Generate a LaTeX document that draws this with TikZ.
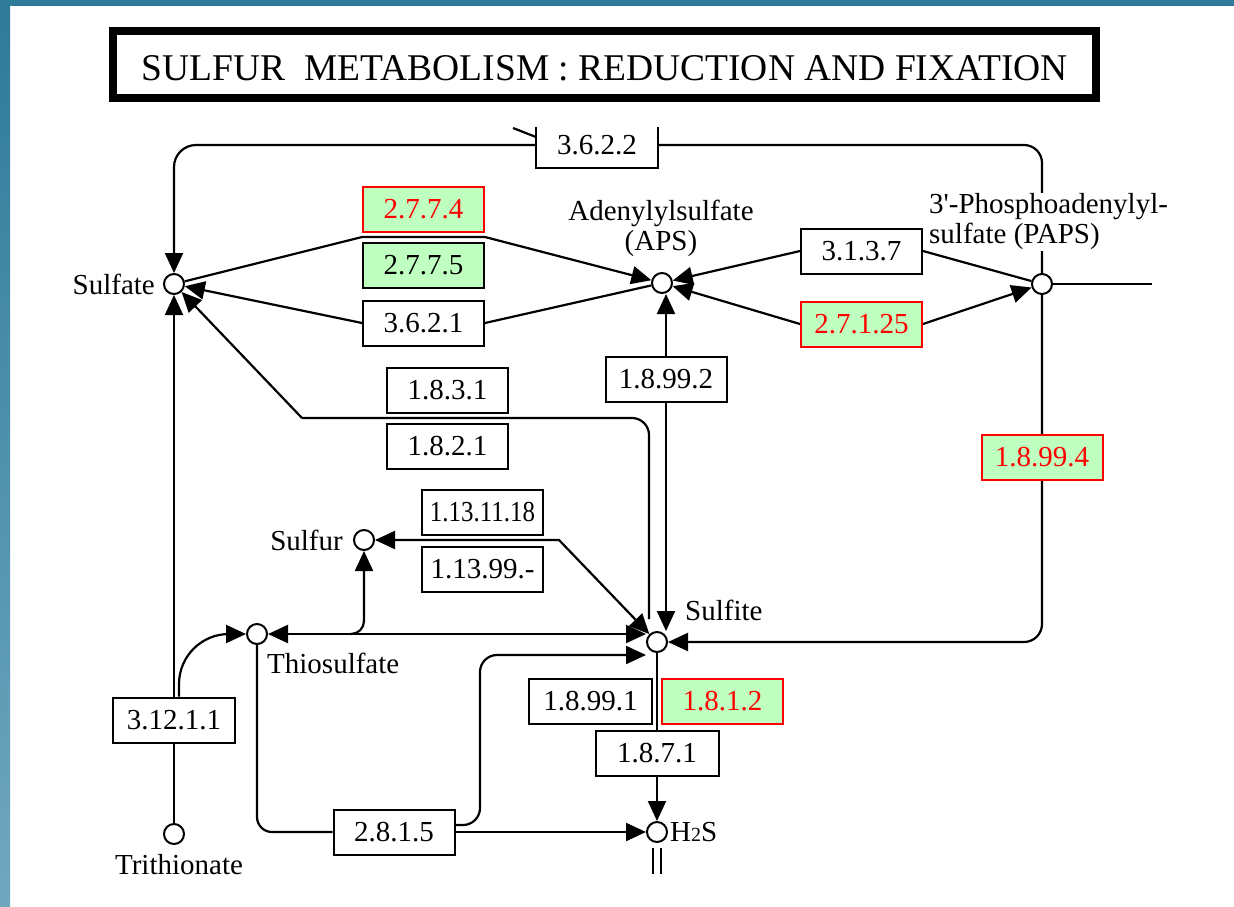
\documentclass[tikz,border=0pt]{standalone}
\usepackage{graphicx}
\usepackage{fontspec}
\setmainfont{Liberation Serif}
\usetikzlibrary{arrows.meta,calc,backgrounds}
\definecolor{kblue}{HTML}{2E7A99}
\definecolor{kblue2}{HTML}{70A7BE}
\definecolor{kgreen}{HTML}{BFFFBF}
\definecolor{kred}{HTML}{FF0000}
\tikzset{
  >={Triangle[length=20pt,width=18pt]},
  cpd/.style={circle, draw, line width=2pt, fill=white, minimum size=20pt, inner sep=0pt},
  ec/.style={rectangle, draw, line width=2pt, fill=white, minimum width=121pt, minimum height=45pt, inner sep=0pt, font=\fontsize{29}{30}\selectfont},
  ecg/.style={ec, fill=kgreen},
  ecr/.style={ec, fill=kgreen, draw=kred, text=kred},
  lbl/.style={font=\fontsize{29}{30}\selectfont, inner sep=1pt},
  conn/.style={line width=2.2pt, draw=black},
}
\begin{document}
\begin{tikzpicture}[x=1pt,y=-1pt]
\useasboundingbox (0,0) rectangle (1234,906);

% title
\node[draw, line width=8pt, minimum width=983pt, minimum height=67pt, inner sep=0pt] (titlebox) at (604.5,64.5) {};
\node[inner sep=0pt] (title) at (605,68.5) {\resizebox{926pt}{25pt}{SULFUR\ \ METABOLISM : REDUCTION AND FIXATION}};

% compounds
\node[cpd] (sulfate) at (174,284) {};
\node[cpd] (aps) at (662,283) {};
\node[cpd] (paps) at (1042,284) {};
\node[cpd] (sulfite) at (657,642) {};
\node[cpd] (sulfur) at (364,540) {};
\node[cpd] (thio) at (257,634) {};
\node[cpd] (trith) at (174,834) {};
\node[cpd] (h2s) at (657,832) {};

% enzymes
\node[ec, draw=none, minimum width=120pt, minimum height=44pt] (e3622) at (597,145) {3.6.2.2};
\draw[conn] ($(e3622.north west)+(0,5)$) -- (e3622.south west) -- (e3622.south east) -- ($(e3622.north east)+(0,5)$);
\node[ecr] (e2774) at (423.5,209) {2.7.7.4};
\node[ecg] (e2775) at (423.5,265) {2.7.7.5};
\node[ec] (e3621) at (423.5,323) {3.6.2.1};
\node[ec] (e3137) at (861.5,251) {3.1.3.7};
\node[ecr] (e27125) at (861.5,324) {2.7.1.25};
\node[ec] (e18992) at (666,379.5) {1.8.99.2};
\node[ec] (e1831) at (447.5,390) {1.8.3.1};
\node[ec] (e1821) at (447.5,446) {1.8.2.1};
\node[ec] (e11311) at (482.5,512) {\scalebox{0.86}[1]{1.13.11.18}};
\node[ec] (e11399) at (482.5,569) {1.13.99.-};
\node[ecr] (e18994) at (1042,457) {1.8.99.4};
\node[ec, minimum width=123pt] (e18991) at (590.5,701.5) {1.8.99.1};
\node[ecr] (e1812) at (722.5,701.5) {1.8.1.2};
\node[ec, minimum width=123pt] (e1871) at (657,753) {1.8.7.1};
\node[ec, minimum width=122pt] (e31211) at (174,720) {3.12.1.1};
\node[ec] (e2815) at (394,832) {2.8.1.5};

\coordinate (g1) at ($(e2774.south west)!0.5!(e2775.north west)$);
\coordinate (g2) at ($(e2774.south east)!0.5!(e2775.north east)$);
\coordinate (k1) at (302,418);
\coordinate (k2) at (559,540);
\coordinate (k4) at (480,655);
\coordinate (pout) at (1152,284);

\begin{pgfonlayer}{background}
\fill[white] (0,0) rectangle (1234,906);
\fill[kblue] (0,0) rectangle (1234,6);
\shade[top color=kblue, bottom color=kblue2] (0,0) rectangle (10,906);

% 3.6.2.2 loop
\draw[conn, rounded corners=18pt] (paps) |- (e3622.east);
\draw[conn, ->, rounded corners=22pt] (e3622.west) -| (sulfate);
\draw[conn] ($(e3622.north west)+(-23,6)$) -- ($(e3622.north west)+(0,15)$);
% sulfate <-> APS
\draw[conn, ->] (sulfate) -- (g1) -- (g2) -- (aps);
\draw[conn] (aps) -- (e3621.east);
\draw[conn, ->] (e3621.west) -- (sulfate);
% APS <-> PAPS
\draw[conn] (paps) -- (e3137.east);
\draw[conn, ->] (e3137.west) -- (aps);
\draw[conn, ->] (e27125.west) -- (aps);
\draw[conn, ->] (e27125.east) -- (paps);
\draw[conn] (paps) -- (pout);
% APS <-> sulfite
\draw[conn, ->] (e18992.north) -- (e18992.north |- aps.south);
\draw[conn, ->] (e18992.south) -- (e18992.south |- sulfite.north);
% sulfite -> sulfate (1.8.3.1 / 1.8.2.1)
\draw[conn, rounded corners=17pt] ($(sulfite.north)+(-8,-12)$) |- (k1);
\draw[conn, ->] (k1) -- (sulfate);
% sulfur <-> sulfite
\draw[conn, <->] (sulfur) -- (k2) -- (sulfite);
% thiosulfate <-> sulfite
\draw[conn, <->] (thio) -- (thio -| sulfite.west);
\draw[conn, ->, rounded corners=13pt] ($(sulfur.south |- thio)+(-14,0)$) -| (sulfur);
% thiosulfate -> 2.8.1.5
\draw[conn, rounded corners=15pt] (thio) |- (e2815.west);
\draw[conn, ->] (e2815.east) -- (h2s);
\draw[conn, ->, rounded corners=17pt] ($(e2815.east)+(0,-7)$) -| (k4) -- (sulfite.west |- k4);
% PAPS -> sulfite
\draw[conn, ->, rounded corners=18pt] (paps) |- (sulfite);
% sulfite -> H2S
\draw[conn] (sulfite) -- (e1871.north);
\draw[conn, ->] (e1871.south) -- (h2s);
\draw[conn] ($(h2s.south)+(-4,5)$) -- ++(0,26);
\draw[conn] ($(h2s.south)+(4,5)$) -- ++(0,26);
% trithionate
\draw[conn] (trith) -- (trith |- e31211.south);
\draw[conn, ->] (sulfate |- e31211.north) -- (sulfate);
\draw[conn, ->, rounded corners=50pt] ($(e31211.north)+(5,0)$) |- (thio);
\end{pgfonlayer}

% labels
\node[lbl, anchor=east] (lsulfate) at ($(sulfate.west)+(-7,0)$) {Sulfate};
\node[lbl, align=center] (laps) at (661,228) {Adenylylsulfate\\(APS)};
\node[lbl, align=left, anchor=west, fill=white] (lpaps) at (928,222) {3\textquotesingle-Phosphoadenylyl-\\sulfate (PAPS)};
\node[lbl, anchor=east] (lsulfur) at ($(sulfur.west)+(-9,0)$) {Sulfur};
\node[lbl, anchor=west] (lthio) at ($(thio)+(9,29)$) {Thiosulfate};
\node[lbl, anchor=west] (lsulfite) at ($(sulfite)+(27,-32)$) {Sulfite};
\node[lbl] (ltrith) at ($(trith)+(5,31)$) {Trithionate};
\node[lbl, anchor=west] (lh2s) at ($(h2s.east)+(1,0)$) {H{\fontsize{20}{20}\selectfont 2}S};
\end{tikzpicture}
\end{document}
